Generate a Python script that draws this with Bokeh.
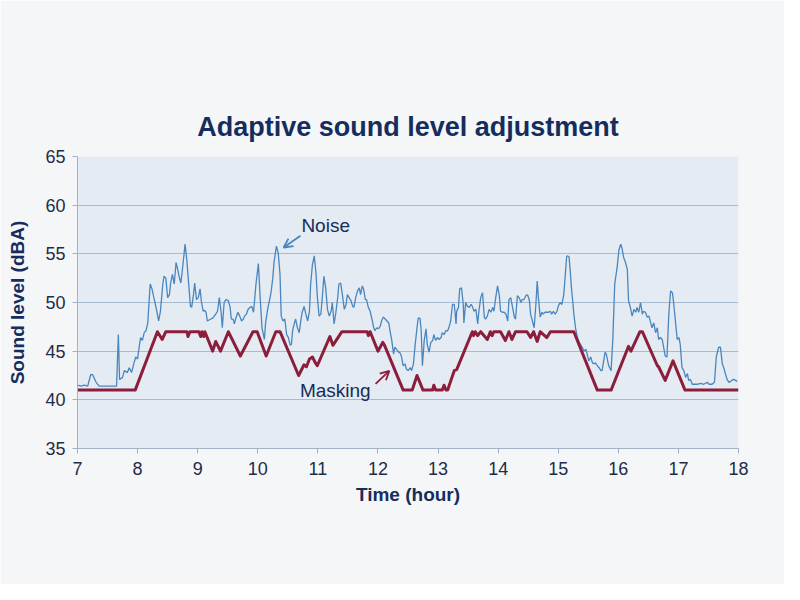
from bokeh.plotting import figure
from bokeh.models import Range1d, FixedTicker, Label, Arrow, OpenHead
from bokeh.embed import file_html
from bokeh.resources import INLINE

title_text = "Adaptive sound level adjustment"
x_label = "Time (hour)"
y_label = "Sound level (dBA)"
x_ticks = [7, 8, 9, 10, 11, 12, 13, 14, 15, 16, 17, 18]
y_ticks = [35, 40, 45, 50, 55, 60, 65]

noise_hour = [
    7.00, 7.06, 7.11, 7.17, 7.22, 7.25, 7.31, 7.36, 7.44, 7.56,
    7.65, 7.68, 7.70, 7.75, 7.78, 7.83, 7.86, 7.90, 7.94, 7.97,
    8.00, 8.03, 8.05, 8.08, 8.11, 8.14, 8.17, 8.18, 8.21, 8.24,
    8.27, 8.29, 8.32, 8.35, 8.38, 8.40, 8.42, 8.44, 8.47, 8.50,
    8.53, 8.55, 8.58, 8.61, 8.64, 8.66, 8.69, 8.72, 8.75, 8.79,
    8.82, 8.85, 8.88, 8.90, 8.93, 8.95, 8.98, 9.01, 9.04, 9.06,
    9.09, 9.11, 9.14, 9.16, 9.22, 9.25,
    9.30, 9.33, 9.36, 9.39, 9.41, 9.44, 9.47, 9.51, 9.54, 9.56,
    9.59, 9.61, 9.63, 9.67, 9.70, 9.73, 9.76, 9.78, 9.81, 9.84,
    9.87, 9.90, 9.93, 9.97, 10.01, 10.04, 10.07, 10.11, 10.13, 10.17,
    10.22, 10.25, 10.27, 10.31, 10.34, 10.37, 10.39, 10.42, 10.45, 10.48,
    10.51, 10.54, 10.56, 10.58, 10.61, 10.63, 10.66, 10.69, 10.72, 10.74,
    10.77, 10.80, 10.83, 10.86, 10.88, 10.91, 10.94, 10.97, 10.99, 11.02,
    11.05, 11.08, 11.10, 11.13, 11.16, 11.19, 11.22, 11.24, 11.27, 11.30,
    11.33, 11.35, 11.38,
    11.41, 11.44, 11.47, 11.49, 11.52, 11.55, 11.58, 11.60, 11.63, 11.66,
    11.69, 11.71, 11.74, 11.76, 11.79, 11.81, 11.84, 11.87, 11.90, 11.93,
    11.95, 11.98, 12.01, 12.04, 12.06, 12.09, 12.12, 12.15, 12.18, 12.20,
    12.23, 12.26, 12.28, 12.31, 12.34, 12.36, 12.39, 12.42, 12.45, 12.47,
    12.50, 12.54, 12.56, 12.59, 12.62, 12.65, 12.67, 12.70, 12.72, 12.74,
    12.77, 12.80, 12.82, 12.85, 12.88, 12.91, 12.93, 12.96, 12.99, 13.02,
    13.05, 13.07, 13.10, 13.13, 13.16, 13.18, 13.21, 13.24, 13.27, 13.30,
    13.31, 13.34, 13.36, 13.39, 13.42, 13.43, 13.46, 13.49, 13.52, 13.55,
    13.57,
    13.60, 13.63, 13.66, 13.68, 13.71, 13.74, 13.77, 13.79, 13.82, 13.85,
    13.88, 13.91, 13.93, 13.96, 13.99, 14.02, 14.04, 14.07, 14.10, 14.13,
    14.16, 14.18, 14.21, 14.24, 14.27, 14.29, 14.32, 14.35, 14.38, 14.40,
    14.43, 14.46, 14.49, 14.52, 14.54, 14.57, 14.60, 14.63, 14.65, 14.67,
    14.70, 14.73, 14.75, 14.78, 14.81, 14.84, 14.87, 14.89, 14.92, 14.95,
    14.98, 15.00, 15.03, 15.06, 15.09, 15.11, 15.14, 15.15, 15.18, 15.20,
    15.22, 15.24, 15.26, 15.29, 15.32, 15.35, 15.38, 15.40, 15.43, 15.46,
    15.49, 15.51, 15.54, 15.57, 15.60, 15.62, 15.65, 15.68, 15.71,
    15.73, 15.78, 15.80, 15.84, 15.88, 15.91, 15.94, 15.98, 16.01, 16.04,
    16.06, 16.09, 16.12, 16.15, 16.17, 16.20, 16.23, 16.26, 16.29, 16.31,
    16.34, 16.37, 16.40, 16.42, 16.45, 16.48, 16.51, 16.54, 16.56, 16.59,
    16.62, 16.65, 16.67, 16.70, 16.73, 16.76, 16.78, 16.81, 16.84, 16.87,
    16.90, 16.92, 16.95, 16.98, 17.01, 17.03, 17.06, 17.09, 17.12, 17.15,
    17.17, 17.20, 17.23, 17.26, 17.31, 17.37, 17.42, 17.48, 17.51, 17.56,
    17.60, 17.63, 17.67, 17.70, 17.73, 17.76, 17.78, 17.81, 17.84, 17.87,
    17.89, 17.92, 17.95, 17.98,
]
noise_db = [
    41.5, 41.4, 41.5, 41.4, 42.6, 42.6, 41.8, 41.4, 41.4, 41.4,
    41.4, 46.7, 42.1, 42.3, 43.0, 42.8, 43.3, 42.8, 43.8, 44.4,
    44.2, 45.6, 46.4, 46.1, 46.9, 47.1, 47.9, 49.0, 51.9, 51.4,
    50.5, 50.0, 49.1, 48.1, 49.1, 50.5, 51.9, 52.7, 52.5, 50.5,
    50.8, 52.0, 52.9, 51.9, 54.1, 53.6, 52.7, 52.0, 53.6, 56.0,
    54.3, 51.9, 49.6, 49.5, 50.8, 52.0, 50.3, 50.5, 51.4, 50.2,
    49.1, 49.2, 49.0, 48.1, 48.3, 48.4,
    48.8, 49.1, 50.5, 49.0, 47.4, 50.0, 50.3, 50.2, 49.5, 48.3,
    48.3, 47.8, 48.3, 49.0, 48.6, 48.1, 48.3, 48.6, 48.8, 49.3,
    49.5, 49.6, 49.0, 51.9, 54.0, 50.5, 47.4, 46.2, 47.9, 49.5,
    51.0, 52.5, 54.1, 55.8, 55.1, 52.9, 48.6, 48.1, 48.3, 46.7,
    46.4, 45.6, 45.7, 47.1, 47.9, 48.3, 47.4, 46.9, 48.3, 49.0,
    49.6, 48.8, 48.1, 49.1, 51.9, 53.9, 54.8, 52.9, 50.7, 48.6,
    48.8, 51.0, 52.7, 51.5, 49.3, 48.6, 49.1, 50.0, 47.8, 49.0,
    50.5, 51.9, 52.0,
    50.7, 49.3, 49.8, 50.8, 50.5, 50.2, 49.6, 49.5, 50.5, 51.2,
    51.5, 50.8, 51.7, 51.4, 50.3, 50.3, 49.5, 49.1, 48.3, 47.4,
    47.1, 47.4, 47.3, 47.6, 48.1, 48.5, 48.3, 48.1, 47.9, 47.1,
    46.1, 44.7, 45.4, 45.2, 44.9, 44.9, 44.5, 43.5, 43.7, 43.2,
    43.0, 43.3, 43.0, 43.7, 45.7, 47.4, 48.4, 48.4, 47.1, 43.5,
    46.1, 47.3, 45.7, 44.9, 45.9, 46.1, 46.7, 46.1, 46.4, 46.2,
    46.4, 46.9, 46.7, 47.1, 47.1, 47.4, 48.1, 49.8, 49.8, 47.8,
    49.1, 49.5, 51.4, 51.5, 49.8, 47.9, 50.0, 49.6, 49.5, 49.8,
    49.6,
    49.1, 49.3, 47.8, 49.1, 50.5, 51.0, 48.5, 48.3, 48.6, 49.3,
    49.0, 49.5, 49.1, 50.5, 51.7, 50.7, 49.1, 49.0, 49.0, 48.8,
    48.1, 50.3, 50.5, 49.5, 48.5, 48.3, 50.7, 50.5, 50.0, 50.3,
    50.3, 50.7, 50.8, 50.2, 48.8, 48.1, 47.4, 50.0, 52.2, 50.5,
    48.5, 49.0, 48.8, 49.0, 49.0, 49.0, 49.1, 48.8, 49.1, 48.8,
    49.1, 49.6, 50.0, 49.8, 50.7, 52.2, 54.7, 54.8, 54.7, 53.2,
    51.5, 50.2, 48.8, 47.3, 46.4, 45.9, 45.6, 45.4, 45.0, 45.2,
    44.5, 44.0, 44.4, 43.8, 43.7, 43.8, 43.5, 43.3, 43.0,
    43.0, 44.9, 44.7, 43.5, 43.0, 46.4, 51.9, 53.6, 55.4, 56.0,
    55.6, 54.6, 54.1, 53.4, 50.2, 49.5, 48.6, 49.3, 49.0, 49.5,
    49.0, 50.0, 48.8, 49.1, 49.0, 48.5, 48.6, 47.9, 47.4, 47.9,
    46.9, 47.4, 46.2, 46.4, 46.2, 45.2, 44.5, 44.4, 48.8, 51.2,
    51.0, 50.0, 48.1, 46.2, 46.4, 45.7, 43.3, 43.0, 42.3, 42.7,
    42.0, 42.1, 41.6, 41.6, 41.6, 41.7, 41.6, 41.8, 41.6, 41.6,
    41.8, 44.4, 45.4, 45.4, 43.7, 43.2, 42.7, 42.1, 41.8, 41.9,
    42.0, 42.1, 42.0, 41.9,
]

mask_hour = [
    7.00, 7.96, 8.33, 8.41, 8.47, 8.82, 8.84, 8.87, 9.02, 9.05,
    9.07, 9.10, 9.12, 9.25, 9.30, 9.38, 9.51, 9.71, 9.92, 9.99,
    10.14, 10.30, 10.37, 10.68, 10.77, 10.81, 10.86, 10.91, 10.95, 10.99,
    11.20, 11.25, 11.40, 11.82, 11.84, 11.87, 12.00, 12.08, 12.11, 12.42,
    12.57, 12.65, 12.75, 12.91, 12.93, 12.96, 13.07, 13.10, 13.13, 13.16,
    13.27, 13.31, 13.57, 13.59, 13.62, 13.66, 13.71, 13.82, 13.87, 13.90,
    13.93, 14.04, 14.12, 14.18, 14.23, 14.29, 14.48, 14.54, 14.59, 14.65,
    14.70, 14.81, 14.87, 15.26, 15.65, 15.88, 16.17, 16.21, 16.36, 16.40,
    16.65, 16.67, 16.78, 16.91, 17.11, 18.00,
]
mask_db = [
    41, 41, 47, 46.2, 47, 47, 46.5, 47, 47, 46.5,
    47, 46.5, 47, 45, 46, 45, 47, 44.5, 47, 47,
    44.5, 47, 47, 42.5, 43.6, 43.4, 44.2, 44.4, 43.9, 43.5,
    46.5, 45.6, 47, 47, 46.6, 47, 45, 45.9, 45.6, 41,
    41, 42.5, 41, 41, 41.5, 41, 41, 41.5, 41, 41,
    43, 43.1, 47, 46.6, 47, 46.6, 47, 46.2, 47, 46.6,
    47, 47, 46.1, 47, 46.2, 47, 47, 46.4, 47, 46.0,
    47, 46.4, 47, 47, 41, 41, 45.5, 45.0, 47, 47,
    43.5, 43.4, 42.0, 44.0, 41, 41,
]

NAVY = "#152d5c"
NOISE_C = "#4a86be"
MASK_C = "#8c1e3c"
FONT = "Liberation Sans"

p = figure(width=784, height=584, output_backend="svg", toolbar_location=None,
           x_range=Range1d(7, 18), y_range=Range1d(35, 65),
           min_border_left=77, min_border_right=46, min_border_top=156, min_border_bottom=136)

p.title.text = title_text
p.title.align = "center"
p.title.text_font = FONT
p.title.text_font_size = "27px"
p.title.text_font_style = "bold"
p.title.text_color = NAVY
p.title.standoff = 30

p.background_fill_color = "#e4ebf3"
p.border_fill_color = "#f5f6f8"
p.outline_line_color = None

p.xgrid.grid_line_color = None
p.ygrid.grid_line_color = "#a6bbd1"
p.ygrid.grid_line_width = 1

for ax in (p.xaxis[0], p.yaxis[0]):
    ax.axis_line_color = "#9fb2c7"
    ax.major_tick_line_color = "#9fb2c7"
    ax.major_tick_in = 0
    ax.major_tick_out = 5
    ax.minor_tick_line_color = None
    ax.major_label_text_font = FONT
    ax.major_label_text_font_size = "18px"
    ax.major_label_text_color = "#1f2c48"
    ax.axis_label_text_font = FONT
    ax.axis_label_text_font_size = "19px"
    ax.axis_label_text_font_style = "bold"
    ax.axis_label_text_color = NAVY

p.xaxis.ticker = FixedTicker(ticks=x_ticks)
p.yaxis.ticker = FixedTicker(ticks=y_ticks)
p.xaxis.axis_label = x_label
p.yaxis.axis_label = y_label
p.xaxis.major_label_standoff = 8
p.yaxis.major_label_standoff = 7
p.xaxis.axis_label_standoff = 6
p.yaxis.axis_label_standoff = 14

p.line(noise_hour, noise_db, line_color=NOISE_C, line_width=1.3)
p.line(mask_hour, mask_db, line_color=MASK_C, line_width=3, line_join="round")

p.add_layout(Label(x=11.13, y=57.9, text="Noise", text_align="center", text_baseline="middle",
                   text_font=FONT, text_font_size="19px", text_color=NAVY))
p.add_layout(Label(x=11.29, y=41.0, text="Masking", text_align="center", text_baseline="middle",
                   text_font=FONT, text_font_size="19px", text_color=NAVY))
p.add_layout(Arrow(end=OpenHead(size=9, line_color=NOISE_C, line_width=1.8),
                   x_start=10.71, y_start=56.85, x_end=10.43, y_end=55.65,
                   line_color=NOISE_C, line_width=1.8))
p.add_layout(Arrow(end=OpenHead(size=9, line_color=MASK_C, line_width=1.8),
                   x_start=11.96, y_start=41.64, x_end=12.19, y_end=42.98,
                   line_color=MASK_C, line_width=1.8))

open("out.html", "w").write(file_html(p, INLINE))
